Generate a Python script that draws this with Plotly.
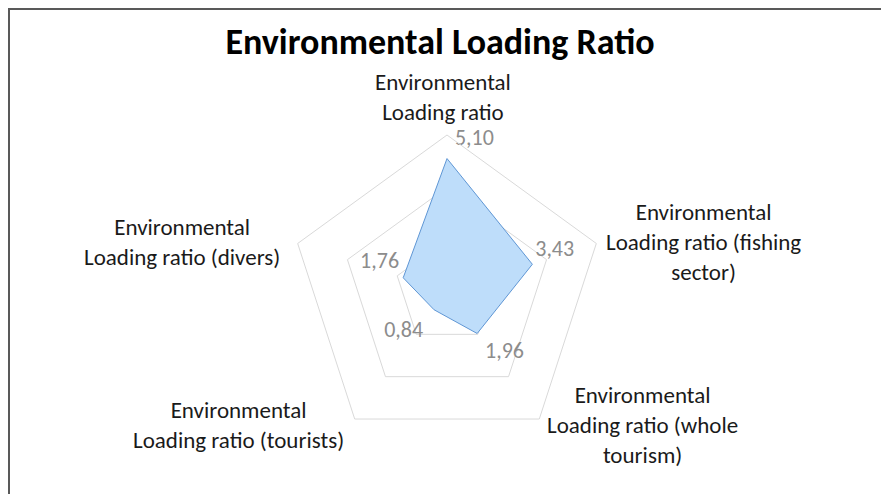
"""
Environmental Loading Ratio - radar chart
"""

import plotly.graph_objects as go

# categories, clockwise from the top
categories = [
    "Environmental Loading ratio",
    "Environmental Loading ratio (fishing sector)",
    "Environmental Loading ratio (whole tourism)",
    "Environmental Loading ratio (tourists)",
    "Environmental Loading ratio (divers)",
]
category_labels = [
    "Environmental<br>Loading ratio",
    "Environmental<br>Loading ratio (fishing<br>sector)",
    "Environmental<br>Loading ratio (whole<br>tourism)",
    "Environmental<br>Loading ratio (tourists)",
    "Environmental<br>Loading ratio (divers)",
]
values = [5.10, 3.43, 1.96, 0.84, 1.76]
value_labels = ["5,10", "3,43", "1,96", "0,84", "1,76"]

FONT = "Carlito, Lato, sans-serif"

# layout (page pixels; the html body adds an 8px offset)
L, T, SIDE = 282, 127, 314
label_positions = ["top right", "top right", "bottom right", "bottom left", "top left"]
label_pads = [11, 3, 11, 16, 5]          # invisible marker sizes -> text offset
category_centers = [(443, 97), (703, 242), (642, 425), (238, 425), (182, 242)]


def page_to_paper(px, py):
    return (px - 8 - L) / SIDE, 1 - (py - 8 - T) / SIDE


fig = go.Figure()

# filled polygon
fig.add_trace(go.Scatterpolar(
    r=values + values[:1],
    theta=categories + categories[:1],
    mode="lines",
    fill="toself",
    fillcolor="rgb(190,221,250)",
    line=dict(color="rgb(95,150,212)", width=1),
    hoverinfo="skip",
    showlegend=False,
))

# data labels
fig.add_trace(go.Scatterpolar(
    r=values,
    theta=categories,
    mode="markers+text",
    marker=dict(size=label_pads, opacity=0),
    text=value_labels,
    textposition=label_positions,
    textfont=dict(family=FONT, size=22, color="#8c8c8c"),
    hoverinfo="skip",
    showlegend=False,
))

annotations = []
for lab, (cx, cy) in zip(category_labels, category_centers):
    ax_, ay_ = page_to_paper(cx, cy)
    annotations.append(dict(
        text=lab, x=ax_, y=ay_, xref="paper", yref="paper",
        xanchor="center", yanchor="middle", align="center",
        showarrow=False, font=dict(family=FONT, size=23, color="#1a1a1a"),
    ))

fig.update_layout(
    width=889,
    height=494,
    margin=dict(l=L, r=889 - L - SIDE, t=T, b=494 - T - SIDE),
    paper_bgcolor="white",
    plot_bgcolor="white",
    font=dict(family=FONT, size=21, color="#1a1a1a"),
    title=dict(
        text="<b>Environmental Loading Ratio</b>",
        x=432 / 889, xref="container", xanchor="center",
        y=1 - 33 / 494, yref="container", yanchor="middle",
        font=dict(family=FONT, size=36, color="#000000"),
    ),
    polar=dict(
        domain=dict(x=[0, 1], y=[0, 1]),
        bgcolor="white",
        gridshape="linear",
        radialaxis=dict(
            range=[0, 6], dtick=2, showticklabels=False, ticks="",
            showline=False, gridcolor="#d9d9d9", gridwidth=1,
        ),
        angularaxis=dict(
            direction="clockwise", rotation=90,
            showgrid=False, showline=True, linecolor="#d9d9d9", linewidth=1,
            ticks="", showticklabels=False,
        ),
    ),
    annotations=annotations,
    shapes=[dict(
        type="rect", xref="paper", yref="paper",
        x0=(1 - L) / SIDE, x1=2.0,
        y0=-1.0, y1=1 + (T - 1) / SIDE,
        line=dict(color="#595959", width=2),
        fillcolor="rgba(0,0,0,0)",
        layer="above",
    )],
)

fig.write_html("out.html")
